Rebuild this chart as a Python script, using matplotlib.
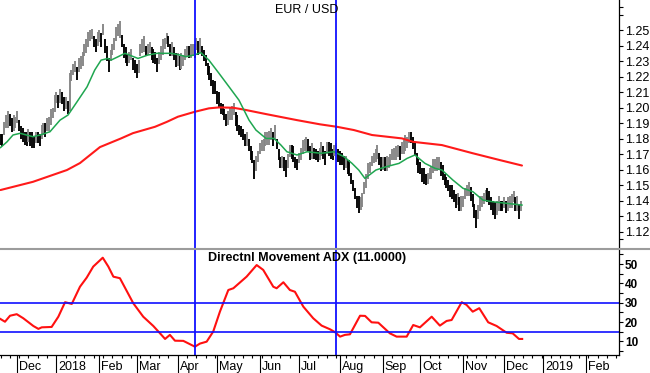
import matplotlib
matplotlib.use("Agg")
import matplotlib.pyplot as plt
import matplotlib.transforms as mtransforms
from matplotlib.lines import Line2D
import numpy as np
import pandas as pd

# ---------------- data ----------------
start_date = "2017-11-20"          # first trading day shown
n_days_axis = 340                  # trading-day calendar used for the axis

highs = [
    1.183, 1.183, 1.191, 1.195, 1.198, 1.196, 1.193, 1.195, 1.194, 1.198,
    1.192, 1.188, 1.187, 1.184, 1.184, 1.186, 1.184, 1.184, 1.181, 1.184,
    1.184, 1.183, 1.189, 1.190, 1.190, 1.193, 1.194, 1.199, 1.200, 1.208,
    1.210, 1.208, 1.212, 1.210, 1.207, 1.207, 1.204, 1.222, 1.224, 1.228,
    1.230, 1.226, 1.232, 1.233, 1.236, 1.241, 1.244, 1.249, 1.250, 1.251,
    1.246, 1.244, 1.249, 1.250, 1.248, 1.254, 1.244, 1.240, 1.232, 1.237,
    1.241, 1.245, 1.252, 1.254, 1.256, 1.247, 1.241, 1.239, 1.234, 1.236,
    1.238, 1.232, 1.231, 1.228, 1.231, 1.241, 1.244, 1.246, 1.240, 1.241,
    1.242, 1.239, 1.238, 1.236, 1.232, 1.236, 1.240, 1.244, 1.245, 1.248,
    1.246, 1.241, 1.242, 1.239, 1.235, 1.235, 1.233, 1.235, 1.234, 1.238,
    1.240, 1.240, 1.241, 1.241, 1.241, 1.245, 1.243, 1.245, 1.240, 1.237,
    1.234, 1.229, 1.227, 1.222, 1.218, 1.217, 1.211, 1.210, 1.203, 1.202,
    1.199, 1.196, 1.198, 1.200, 1.201, 1.203, 1.197, 1.195, 1.189, 1.188,
    1.186, 1.183, 1.184, 1.180, 1.175, 1.172, 1.166, 1.169, 1.172, 1.177,
    1.179, 1.180, 1.184, 1.184, 1.185, 1.187, 1.184, 1.189, 1.180, 1.173,
    1.168, 1.169, 1.168, 1.166, 1.170, 1.176, 1.176, 1.175, 1.168, 1.167,
    1.171, 1.174, 1.179, 1.180, 1.181, 1.180, 1.175, 1.177, 1.174, 1.173,
    1.172, 1.174, 1.178, 1.175, 1.172, 1.178, 1.178, 1.177, 1.173, 1.176,
    1.177, 1.173, 1.172, 1.171, 1.169, 1.169, 1.166, 1.166, 1.158, 1.153,
    1.148, 1.143, 1.143, 1.142, 1.145, 1.152, 1.157, 1.164, 1.165, 1.169,
    1.171, 1.173, 1.176, 1.171, 1.168, 1.168, 1.168, 1.169, 1.168, 1.170,
    1.173, 1.174, 1.175, 1.176, 1.175, 1.178, 1.179, 1.182, 1.181, 1.184,
    1.184, 1.181, 1.178, 1.171, 1.167, 1.165, 1.161, 1.161, 1.157, 1.158,
    1.161, 1.162, 1.167, 1.167, 1.168, 1.168, 1.165, 1.163, 1.157, 1.155,
    1.153, 1.150, 1.150, 1.147, 1.144, 1.145, 1.142, 1.143, 1.143, 1.148,
    1.150, 1.152, 1.149, 1.144, 1.138, 1.134, 1.137, 1.143, 1.143, 1.145,
    1.147, 1.148, 1.146, 1.142, 1.140, 1.139, 1.140, 1.143, 1.140, 1.140,
    1.142, 1.140, 1.142, 1.143, 1.144, 1.146, 1.142, 1.143, 1.137, 1.140,
]
lows = [
    1.176, 1.175, 1.182, 1.187, 1.187, 1.188, 1.184, 1.185, 1.187, 1.190,
    1.185, 1.180, 1.178, 1.176, 1.175, 1.178, 1.175, 1.174, 1.174, 1.177,
    1.177, 1.175, 1.180, 1.182, 1.181, 1.185, 1.185, 1.189, 1.193, 1.197,
    1.203, 1.200, 1.203, 1.202, 1.198, 1.199, 1.196, 1.198, 1.217, 1.221,
    1.223, 1.218, 1.223, 1.225, 1.227, 1.233, 1.235, 1.239, 1.243, 1.244,
    1.239, 1.236, 1.240, 1.242, 1.239, 1.247, 1.235, 1.230, 1.223, 1.230,
    1.234, 1.237, 1.243, 1.246, 1.245, 1.239, 1.232, 1.229, 1.227, 1.229,
    1.231, 1.224, 1.222, 1.219, 1.222, 1.233, 1.235, 1.236, 1.233, 1.234,
    1.235, 1.231, 1.229, 1.228, 1.223, 1.228, 1.231, 1.234, 1.238, 1.241,
    1.239, 1.233, 1.233, 1.231, 1.226, 1.227, 1.224, 1.225, 1.227, 1.231,
    1.233, 1.232, 1.232, 1.233, 1.232, 1.237, 1.234, 1.235, 1.233, 1.230,
    1.227, 1.221, 1.218, 1.214, 1.209, 1.209, 1.202, 1.200, 1.196, 1.195,
    1.192, 1.188, 1.189, 1.192, 1.192, 1.195, 1.188, 1.185, 1.182, 1.181,
    1.179, 1.175, 1.175, 1.172, 1.166, 1.164, 1.154, 1.159, 1.165, 1.170,
    1.172, 1.172, 1.175, 1.176, 1.176, 1.179, 1.175, 1.179, 1.173, 1.166,
    1.161, 1.161, 1.159, 1.155, 1.161, 1.168, 1.167, 1.165, 1.161, 1.160,
    1.164, 1.166, 1.170, 1.172, 1.172, 1.172, 1.166, 1.167, 1.167, 1.166,
    1.165, 1.166, 1.169, 1.167, 1.163, 1.170, 1.169, 1.167, 1.166, 1.169,
    1.170, 1.165, 1.163, 1.163, 1.160, 1.161, 1.157, 1.156, 1.151, 1.146,
    1.141, 1.135, 1.132, 1.134, 1.136, 1.144, 1.148, 1.154, 1.158, 1.162,
    1.164, 1.165, 1.167, 1.163, 1.159, 1.160, 1.159, 1.159, 1.161, 1.163,
    1.166, 1.166, 1.166, 1.168, 1.166, 1.170, 1.170, 1.172, 1.174, 1.177,
    1.177, 1.173, 1.169, 1.163, 1.158, 1.157, 1.152, 1.151, 1.150, 1.151,
    1.154, 1.154, 1.158, 1.159, 1.159, 1.160, 1.156, 1.153, 1.150, 1.148,
    1.146, 1.142, 1.141, 1.139, 1.135, 1.137, 1.133, 1.133, 1.136, 1.141,
    1.143, 1.143, 1.140, 1.136, 1.129, 1.122, 1.128, 1.133, 1.136, 1.138,
    1.140, 1.139, 1.137, 1.134, 1.131, 1.128, 1.131, 1.133, 1.133, 1.133,
    1.135, 1.132, 1.133, 1.135, 1.135, 1.139, 1.133, 1.133, 1.128, 1.133,
]

# short moving average (green), read at trading-day positions
green_x = [0, 3.5, 6.7, 10.5, 17.4, 21.2, 26.5, 31.9, 36.2, 41, 46.4, 50.5, 53.9,
           57.6, 59.2, 63, 66.7, 73.7, 79, 83.9, 91.4, 96.2, 99.4, 103.7, 107.4,
           111.7, 117.1, 122.5, 127.8, 133.2, 136.9, 142.3, 146.6, 150.3, 153.5,
           158.9, 164.3, 171.8, 178.7, 184.1, 188.4, 192, 195.3, 201.2, 206.6,
           213.6, 217.9, 222.1, 227.5, 232.9, 236.6, 242.5, 247.9, 253.2, 258.6,
           263.9, 271.4, 279.5]
green_y = [1.1742, 1.1779, 1.1823, 1.1834, 1.1812, 1.1823, 1.1844, 1.1919, 1.1952,
           1.2037, 1.2134, 1.2242, 1.2306, 1.2317, 1.2306, 1.2328, 1.2350, 1.2317,
           1.2339, 1.2350, 1.2350, 1.2339, 1.2328, 1.2339, 1.2354, 1.2306, 1.2221,
           1.2134, 1.2048, 1.1919, 1.1855, 1.1801, 1.1801, 1.1758, 1.1715, 1.1694,
           1.1715, 1.1705, 1.1715, 1.1683, 1.1640, 1.1597, 1.1543, 1.1597, 1.1618,
           1.1640, 1.1672, 1.1694, 1.1640, 1.1608, 1.1597, 1.1532, 1.1479, 1.1457,
           1.1403, 1.1392, 1.1382, 1.1371]

# long moving average (red)
red_x = [0, 17.4, 35.6, 42.6, 48, 53.3, 64.6, 71, 82.8, 89.2, 95.1, 104.2, 111.7,
         117.1, 124.6, 130, 142.3, 158.9, 171.2, 180.3, 189.4, 199.1, 215.2, 221.1,
         236.6, 253.2, 267.7, 279.5]
red_y = [1.1468, 1.1521, 1.1597, 1.1642, 1.1694, 1.1745, 1.1801, 1.1835, 1.1876,
         1.1908, 1.1941, 1.1973, 1.1995, 1.2001, 1.1999, 1.1988, 1.1958, 1.1919,
         1.1892, 1.1876, 1.1855, 1.1823, 1.1801, 1.1779, 1.1758, 1.1705, 1.1661,
         1.1626]

# ADX(11)
adx_x = [0, 2.4, 5.1, 8.7, 12.2, 17.6, 20.3, 22.1, 27.4, 31.0, 34.6, 38.2, 42.6,
         46.2, 49.7, 54.8, 57.8, 60.5, 64.0, 71.2, 76.5, 81.9, 85.5, 88.2, 90.8,
         93.5, 98.0, 104.2, 106.9, 110.5, 114.0, 117.6, 122.1, 124.8, 131.9,
         137.3, 140.8, 146.2, 148.0, 151.6, 155.1, 157.8, 162.3, 167.6, 172.1,
         176.6, 179.3, 182.0, 184.6, 187.3, 192.7, 195.4, 198.9, 202.5, 208.7,
         212.3, 217.7, 221.2, 224.8, 231.1, 235.5, 239.1, 241.8, 247.2, 249.8,
         253.1, 256.6, 261.4, 265.9, 271.3, 274.5, 277.9, 279.6]
adx_y = [21.6, 20.2, 23.3, 24.1, 22.0, 18.0, 16.5, 17.3, 17.5, 22.8, 30.3, 29.4,
         38.3, 43.0, 48.7, 53.3, 48.7, 43.5, 42.7, 29.7, 22.8, 18.0, 14.2, 11.3,
         13.4, 10.4, 10.3, 7.3, 8.9, 9.9, 15.1, 25.4, 36.6, 37.5, 43.5, 49.5,
         47.0, 38.3, 37.5, 40.6, 36.6, 35.7, 28.0, 22.0, 18.2, 16.3, 14.8, 12.5,
         13.4, 13.7, 23.3, 23.2, 19.9, 19.7, 14.2, 12.5, 12.5, 18.5, 17.3, 22.8,
         18.2, 20.6, 21.1, 30.3, 28.9, 25.4, 27.2, 19.9, 18.0, 14.5, 14.2, 11.3,
         11.3]

marker_dates = ["2018-04-13", "2018-07-30"]
adx_levels = [30, 15]
month_labels = ["Dec", "2018", "Feb", "Mar", "Apr", "May", "Jun", "Jul", "Aug",
                "Sep", "Oct", "Nov", "Dec", "2019", "Feb"]
price_ticks = [1.12, 1.13, 1.14, 1.15, 1.16, 1.17, 1.18, 1.19, 1.20, 1.21,
               1.22, 1.23, 1.24, 1.25]
adx_ticks = [10, 20, 30, 40, 50]
title_top = "EUR / USD"
title_bottom = "Directnl Movement ADX (11.0000)"

# ---------------- figure ----------------
plt.rcParams['font.family'] = ['Liberation Sans', 'DejaVu Sans']
W, H = 650, 373
fig = plt.figure(figsize=(W / 100, H / 100), dpi=100)
fig.patch.set_facecolor('white')

def fy(py):
    return 1 - py / H

axR = 619
ax1 = fig.add_axes([0, fy(248), axR / W, fy(0) - fy(248)])
ax2 = fig.add_axes([0, fy(355), axR / W, fy(249) - fy(355)])

dates = pd.bdate_range(start_date, periods=n_days_axis)
xmin, xmax = -0.27, 331.5

# ---- price panel ----
idx = np.arange(len(highs))
mids = (np.array(highs) + np.array(lows)) / 2
colors = ['#000000'] + ['#858585' if mids[i] > mids[i - 1] else '#000000'
                        for i in range(1, len(mids))]
ax1.vlines(idx, lows, highs, colors=colors, linewidth=1.35)
ax1.plot(red_x, red_y, color='#ff1a1a', lw=1.5, solid_capstyle='round')
ax1.plot(green_x, green_y, color='#1fa650', lw=1.1)

ax1.set_xlim(xmin, xmax)
ax1.set_ylim(1.1094, 1.2694)
ax1.yaxis.tick_right()
ax1.set_yticks(price_ticks)
ax1.set_yticklabels([f"{v:.2f}" for v in price_ticks])
ax1.set_yticks([1.115, 1.26, 1.265], minor=True)
ax1.tick_params(axis='y', which='both', direction='out', length=3.2, width=0.8,
                pad=1, labelsize=9, colors='black')
ax1.set_xticks([])
for s in ['left', 'top', 'bottom']:
    ax1.spines[s].set_visible(False)
ax1.spines['right'].set_linewidth(0.9)

# ---- ADX panel ----
ax2.plot(adx_x, adx_y, color='#ff1010', lw=1.5, solid_joinstyle='round')
for lv in adx_levels:
    ax2.axhline(lv, color='#1010ff', lw=1.2)
ax2.set_xlim(xmin, xmax)
ax2.set_ylim(3.0, 57.8)
ax2.yaxis.tick_right()
ax2.set_yticks(adx_ticks)
ax2.set_yticklabels([str(v) for v in adx_ticks], fontweight='bold')
ax2.set_yticks([5, 15, 25, 35, 45, 55], minor=True)
ax2.tick_params(axis='y', which='both', direction='out', length=3.2, width=0.8,
                pad=1, labelsize=8.5, colors='black')
for s in ['left', 'top']:
    ax2.spines[s].set_visible(False)
ax2.spines['right'].set_linewidth(0.9)
ax2.spines['bottom'].set_linewidth(0.9)

# month ticks (first trading day of each calendar month) and weekly minor ticks
month_pos = [i for i, d in enumerate(dates)
             if (i == 0 or d.month != dates[i - 1].month) and d.day <= 3
             and xmin < i < xmax]
week_pos = [i for i, d in enumerate(dates) if d.weekday() == 0 and xmin < i < xmax]
ax2.set_xticks(month_pos)
ax2.set_xticklabels([])
ax2.set_xticks(week_pos, minor=True)
ax2.tick_params(axis='x', which='major', direction='out', length=13.5, width=0.8)
ax2.tick_params(axis='x', which='minor', direction='out', length=2.4, width=0.8)
trans = mtransforms.blended_transform_factory(ax2.transData, ax2.transAxes)
for p, lab in zip(month_pos, month_labels):
    ax2.text(p + 1.0, -0.115, lab, transform=trans, ha='left', va='center',
             fontsize=9)

# vertical marker lines through both panels
for d in marker_dates:
    p = dates.get_loc(pd.Timestamp(d))
    ax1.axvline(p, color='#1010ff', lw=1.3)
    ax2.axvline(p, color='#1010ff', lw=1.3)

# separator line between panels
fig.add_artist(Line2D([0, 1], [fy(248.5), fy(248.5)], transform=fig.transFigure,
                      color='#9c9c9c', lw=1.5))

fig.text(307 / W, fy(10), title_top, ha='center', va='center', fontsize=9)
fig.text(307.5 / W, fy(258), title_bottom, ha='center', va='center',
         fontsize=9, fontweight='bold')

fig.savefig('out.png', dpi=100)
